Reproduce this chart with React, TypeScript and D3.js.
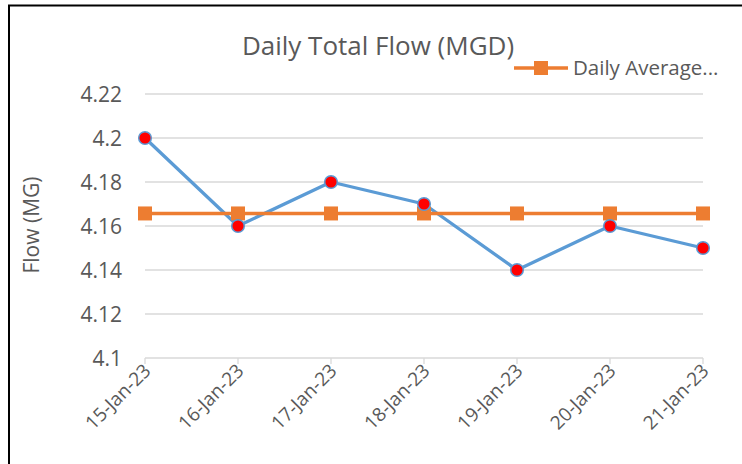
import React, { useRef, useEffect } from 'react';
import * as d3 from 'd3';

const dates = ['15-Jan-23', '16-Jan-23', '17-Jan-23', '18-Jan-23', '19-Jan-23', '20-Jan-23', '21-Jan-23'];
const dailyFlow = [4.2, 4.16, 4.18, 4.17, 4.14, 4.16, 4.15];
const dailyAverage = [4.1657, 4.1657, 4.1657, 4.1657, 4.1657, 4.1657, 4.1657];
const yTicks = [4.1, 4.12, 4.14, 4.16, 4.18, 4.2, 4.22];

const W = 742;
const H = 464;
const FONT = '"Open Sans", "Noto Sans", sans-serif';
const TXT = '#595959';

const App = () => {
  const svgRef = useRef<SVGSVGElement>(null);

  useEffect(() => {
    const svg = d3.select(svgRef.current).attr('width', W).attr('height', H);
    svg.selectAll('*').remove();

    svg.append('rect').attr('width', W).attr('height', H).attr('fill', 'white');

    const x = d3.scalePoint<string>().domain(dates).range([145, 703]);
    const y = d3.scaleLinear().domain([4.1, 4.22]).range([358, 94]);

    // gridlines
    svg
      .selectAll('.grid')
      .data(yTicks.slice(1))
      .enter()
      .append('line')
      .attr('x1', 145)
      .attr('x2', 703)
      .attr('y1', d => y(d))
      .attr('y2', d => y(d))
      .attr('stroke', '#d9d9d9')
      .attr('stroke-width', 1.3);

    // x axis line + ticks
    svg
      .append('line')
      .attr('x1', 145)
      .attr('x2', 703)
      .attr('y1', y(4.1))
      .attr('y2', y(4.1))
      .attr('stroke', '#d9d9d9')
      .attr('stroke-width', 1.3);
    svg
      .selectAll('.xtick')
      .data(dates)
      .enter()
      .append('line')
      .attr('x1', d => x(d)!)
      .attr('x2', d => x(d)!)
      .attr('y1', y(4.1))
      .attr('y2', y(4.1) + 6)
      .attr('stroke', '#d9d9d9')
      .attr('stroke-width', 1.3);

    // y labels
    svg
      .selectAll('.ylab')
      .data(yTicks)
      .enter()
      .append('text')
      .attr('x', 122)
      .attr('y', d => y(d))
      .attr('dy', '0.36em')
      .attr('text-anchor', 'end')
      .attr('font-family', FONT)
      .attr('font-size', 21)
      .attr('fill', TXT)
      .text(d => d3.format('~g')(d));

    // x labels
    svg
      .selectAll('.xlab')
      .data(dates)
      .enter()
      .append('text')
      .attr('transform', d => `translate(${x(d)! + 7},${y(4.1) + 14}) rotate(-45)`)
      .attr('text-anchor', 'end')
      .attr('font-family', FONT)
      .attr('font-size', 19)
      .attr('fill', TXT)
      .text(d => d);

    // title
    svg
      .append('text')
      .attr('x', 378)
      .attr('y', 55)
      .attr('text-anchor', 'middle')
      .attr('font-family', FONT)
      .attr('font-size', 26)
      .attr('fill', TXT)
      .text('Daily Total Flow (MGD)');

    // y axis title
    svg
      .append('text')
      .attr('transform', 'translate(39,225) rotate(-90)')
      .attr('text-anchor', 'middle')
      .attr('font-family', FONT)
      .attr('font-size', 21)
      .attr('fill', TXT)
      .text('Flow (MG)');

    const line = d3
      .line<number>()
      .x((d, i) => x(dates[i])!)
      .y(d => y(d));

    // daily flow line
    svg
      .append('path')
      .attr('d', line(dailyFlow))
      .attr('fill', 'none')
      .attr('stroke', '#5b9bd5')
      .attr('stroke-width', 3.3)
      .attr('stroke-linejoin', 'round');

    // daily average
    svg
      .append('path')
      .attr('d', line(dailyAverage))
      .attr('fill', 'none')
      .attr('stroke', '#ed7d31')
      .attr('stroke-width', 3.5);
    svg
      .selectAll('.sq')
      .data(dailyAverage)
      .enter()
      .append('rect')
      .attr('x', (d, i) => x(dates[i])! - 7)
      .attr('y', d => y(d) - 7)
      .attr('width', 14)
      .attr('height', 14)
      .attr('fill', '#ed7d31');

    // daily flow markers
    svg
      .selectAll('.dot')
      .data(dailyFlow)
      .enter()
      .append('circle')
      .attr('cx', (d, i) => x(dates[i])!)
      .attr('cy', d => y(d))
      .attr('r', 6.3)
      .attr('fill', '#ff0000')
      .attr('stroke', '#5b9bd5')
      .attr('stroke-width', 1.5);

    // legend
    const lg = svg.append('g').attr('transform', 'translate(514,68)');
    lg.append('line').attr('x1', 0).attr('x2', 54).attr('stroke', '#ed7d31').attr('stroke-width', 3.5);
    lg.append('rect').attr('x', 20).attr('y', -7).attr('width', 14).attr('height', 14).attr('fill', '#ed7d31');
    lg
      .append('text')
      .attr('x', 59)
      .attr('dy', '0.36em')
      .attr('font-family', FONT)
      .attr('font-size', 20.5)
      .attr('fill', TXT)
      .text('Daily Average...');

    // frame
    svg.append('line').attr('x1', 9).attr('x2', 9).attr('y1', 5).attr('y2', H).attr('stroke', '#000').attr('stroke-width', 2);
    svg.append('line').attr('x1', 8).attr('x2', W).attr('y1', 5.5).attr('y2', 5.5).attr('stroke', '#000').attr('stroke-width', 2);
  }, []);

  return <svg ref={svgRef} style={{ position: 'absolute', left: 0, top: 0, display: 'block' }}></svg>;
};

export default App;
